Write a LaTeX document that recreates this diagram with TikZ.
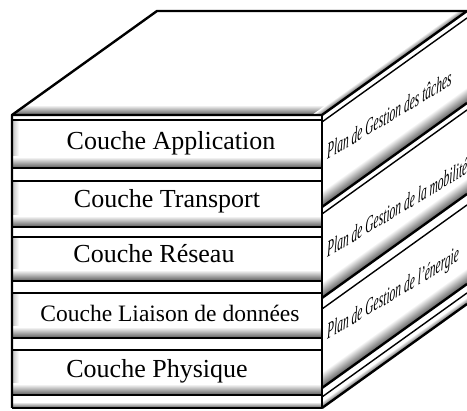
\documentclass[tikz,border=0pt]{standalone}
\usepackage{fontspec}
\setmainfont{Liberation Serif}
\begin{document}
\begin{tikzpicture}[x=1pt,y=1pt,
    thickline/.style={line width=2.4pt},
    thinline/.style={line width=1.4pt},
    shadow/.style={top color=white, bottom color=black!65},
    couche/.style={font=\fontsize{26}{30}\selectfont, anchor=base, inner sep=0pt},
    plan/.style={font=\fontsize{23}{26}\selectfont\itshape, anchor=base west, inner sep=0pt, yslant=0.6, xscale=0.5}]

\useasboundingbox (0,0) rectangle (467,411);

%% corners
\coordinate (fbl) at (12,3);     %% front bottom left
\coordinate (fbr) at (322,3);    %% front bottom right
\coordinate (ftr) at (322,296);  %% front top right
\coordinate (ftl) at (12,296);   %% front top left
\coordinate (btl) at (157,400);  %% back top left
\coordinate (btr) at (467,400);  %% back top right

%% shadows on the top face
\begin{scope}[transform canvas={cm={1,0,1.394,1,(12,296)}}]
\shade[shadow] (0,0) rectangle (310,10);
\shade[left color=white, right color=black!65] (300,0) rectangle (310,104);
\end{scope}

%% shadows on the side face
\begin{scope}[transform canvas={cm={1,0.7172,0,1,(322,0)}}]
\shade[shadow] (0,204) rectangle (145,220);   %% taches
\shade[shadow] (0,113) rectangle (145,129);   %% mobilite
\shade[shadow] (0,23) rectangle (145,39);     %% energie
\shade[shadow] (0,3) rectangle (145,10);
\end{scope}

%% shadows on the front layers
\shade[left color=black!25, right color=white] (12,243) rectangle (19,291);
\shade[left color=black!25, right color=white] (12,184) rectangle (19,230);
\shade[left color=black!25, right color=white] (12,130) rectangle (19,174);
\shade[left color=black!25, right color=white] (12,73) rectangle (19,118);
\shade[left color=black!25, right color=white] (12,16) rectangle (19,61);
\shade[shadow] (12,243) rectangle (322,254);   %% application
\shade[shadow] (12,184) rectangle (322,195);   %% transport
\shade[shadow] (12,130) rectangle (322,141);   %% reseau
\shade[shadow] (12,73) rectangle (322,84);     %% liaison
\shade[shadow] (12,16) rectangle (322,27);     %% physique
\shade[shadow] (12,3) rectangle (322,9);

%% front lines
\draw[thinline] (12,291) -- (322,291);
\draw[thickline] (12,243) -- (322,243);
\draw[thinline] (12,230) -- (322,230);
\draw[thickline] (12,184) -- (322,184);
\draw[thinline] (12,174) -- (322,174);
\draw[thickline] (12,130) -- (322,130);
\draw[thinline] (12,118) -- (322,118);
\draw[thickline] (12,73) -- (322,73);
\draw[thinline] (12,61) -- (322,61);
\draw[thickline] (12,16) -- (322,16);

%% side lines
\draw[thinline] (322,289) -- ++(145,104);
\draw[thickline] (322,204) -- ++(145,104);
\draw[thinline] (322,197) -- ++(145,104);
\draw[thickline] (322,113) -- ++(145,104);
\draw[thinline] (322,102) -- ++(145,104);
\draw[thickline] (322,23) -- ++(145,104);
\draw[thinline] (322,14) -- ++(145,104);

%% outline
\draw[thickline, line join=round] (fbl) -- (ftl) -- (btl) -- (btr);
\draw[thickline, line join=round] (ftl) -- (ftr) -- (btr);
\draw[thickline, line join=round] (fbl) -- (fbr) -- (ftr);
\draw[thickline] (fbr) -- ++(145,104);

%% layer labels
\node[couche] (app) at (171,261) {Couche Application};
\node[couche] (transport) at (167,203) {Couche Transport};
\node[couche] (reseau) at (154,148) {Couche Réseau};
\node[couche, font=\fontsize{23.5}{28}\selectfont] (liaison) at (170,89) {Couche Liaison de données};
\node[couche] (physique) at (157,33) {Couche Physique};

%% plane labels
\node[plan] (taches) at (327,251) {Plan de Gestion des tâches};
\node[plan] (mobilite) at (327,153) {Plan de Gestion de la mobilité};
\node[plan] (energie) at (327,71) {Plan de Gestion de l'énergie};

\end{tikzpicture}
\end{document}
